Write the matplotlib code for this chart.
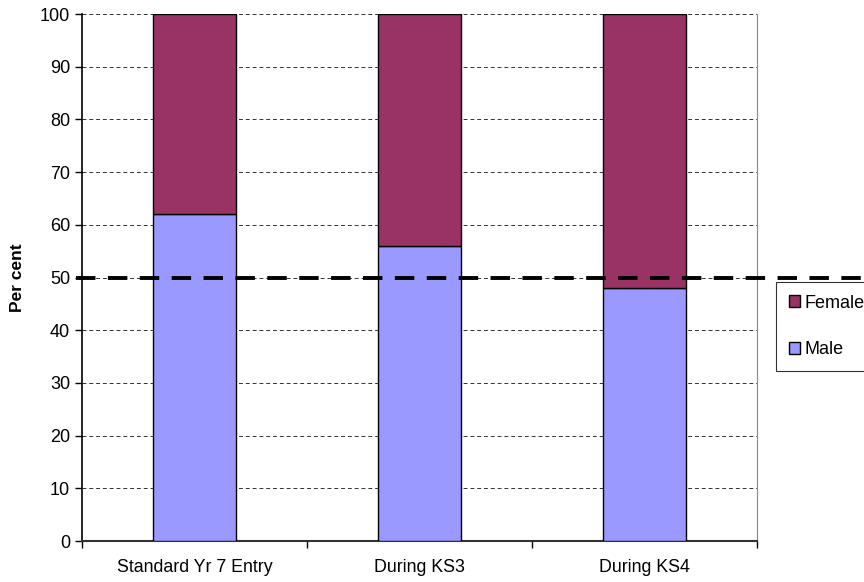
import numpy as np
import matplotlib.pyplot as plt
from matplotlib.patches import Patch
from matplotlib.lines import Line2D

plt.rcParams['font.family'] = ['Liberation Sans', 'DejaVu Sans']

# Share of pupils by entry route (per cent)
categories = ['Standard Yr 7 Entry', 'During KS3', 'During KS4']
male = [62, 56, 48]
female = [38, 44, 52]
parity = 50

fig = plt.figure(figsize=(8.64, 5.82), dpi=100)
ax = fig.add_axes([0.0949, 0.0704, 0.7813, 0.9055])

x = np.arange(len(categories))
w = 0.373
ax.bar(x, male, w, color='#9999ff', edgecolor='black', linewidth=1.0, zorder=3)
ax.bar(x, female, w, bottom=male, color='#993366', edgecolor='black', linewidth=1.0, zorder=3)

ax.set_xlim(-0.5, len(categories) - 0.5)
ax.set_ylim(0, 100)
ax.set_yticks(range(0, 101, 10))
ax.yaxis.grid(True, linestyle=(0, (4, 3)), color='#333333', linewidth=0.7)
ax.set_axisbelow(True)

# category labels centred, ticks on the boundaries
ax.set_xticks(x)
ax.set_xticklabels(categories, fontsize=12.8)
ax.tick_params(axis='x', which='major', length=0, pad=13)
ax.set_xticks(np.arange(-0.5, len(categories)), minor=True)
ax.tick_params(axis='x', which='minor', length=5, direction='out', width=1)
ax.tick_params(axis='y', labelsize=13, length=5, width=1, direction='out')

ax.spines['top'].set_visible(False)
ax.spines['right'].set_color('#888888')
ax.spines['left'].set_linewidth(1.2)
ax.spines['bottom'].set_linewidth(1.5)
ax.spines['bottom'].set_color('#333333')

ax.set_ylabel('Per cent', fontsize=12.5, fontweight='bold', labelpad=11)

# parity line runs past the plot area towards the legend
y50 = ax.transData.transform((0, parity))[1] / fig.dpi / fig.get_figheight()
fig.add_artist(Line2D([0.088, 1.0], [y50, y50], color='black', linewidth=2.8,
                      linestyle=(0, (5, 3.2)), transform=fig.transFigure, zorder=10))

handles = [Patch(facecolor='#993366', edgecolor='black', label='Female'),
           Patch(facecolor='#9999ff', edgecolor='black', label='Male')]
leg = fig.legend(handles=handles, loc='upper left', bbox_to_anchor=(0.898, 0.5155),
                 fontsize=13, frameon=True, fancybox=False, edgecolor='black',
                 handlelength=0.66, handleheight=0.66, handletextpad=0.25,
                 labelspacing=1.65, borderpad=0.7, borderaxespad=0)
leg.get_frame().set_linewidth(0.8)

fig.savefig('out.png', dpi=100)
